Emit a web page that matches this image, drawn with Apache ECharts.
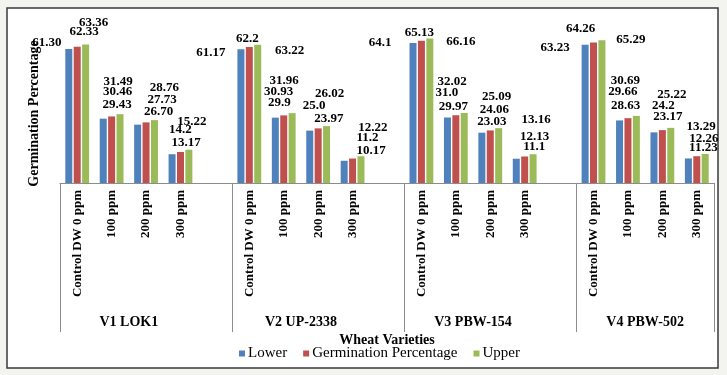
<!DOCTYPE html>
<html>
<head>
<meta charset="utf-8">
<script src="https://cdn.jsdelivr.net/npm/echarts@6/dist/echarts.min.js"></script>
<style>
  html, body { margin: 0; padding: 0; background: #f3f3ef; }
  #chart { width: 727px; height: 375px; }
</style>
</head>
<body>
<div id="chart"></div>
<script>
// Wheat germination by variety and treatment (Lower / mean / Upper).
const varieties = ["V1 LOK1", "V2 UP-2338", "V3 PBW-154", "V4 PBW-502"];
const treatments = ["Control DW 0 ppm", "100 ppm", "200 ppm", "300 ppm"];

// values kept as text so the labels read exactly like the figure ("61.30", "25.0")
const lower = ["61.30", "29.43", "26.70", "13.17", "61.17", "29.9", "23.97", "10.17",
               "64.1", "29.97", "23.03", "11.1", "63.23", "28.63", "23.17", "11.23"];
const germination = ["62.33", "30.46", "27.73", "14.2", "62.2", "30.93", "25.0", "11.2",
                     "65.13", "31.0", "24.06", "12.13", "64.26", "29.66", "24.2", "12.26"];
const upper = ["63.36", "31.49", "28.76", "15.22", "63.22", "31.96", "26.02", "12.22",
               "66.16", "32.02", "25.09", "13.16", "65.29", "30.69", "25.22", "13.29"];

// where the source put each data label, relative to its bar top (styling only)
const labelShift = {
  lower: [[-22, -6], [14, -14], [21, -13], [14, -12], [-30, 3], [4, -15], [19, -12], [27, -10],
          [-33, 0], [6, -11], [10, -11], [18, -12], [-30, 3], [6, -15], [14, -16], [15, -11]],
  germ:  [[7, -15], [6, -25], [16, -23], [0, -22], [-2, -8], [-5, -24], [-4, -23], [15, -21],
          [-2, -8], [-9, -23], [4, -21], [10, -20], [-13, -14], [-5, -27], [1, -24], [7, -18]],
  upper: [[8, -22], [-2, -33], [10, -32], [3, -28], [32, 6], [-8, -33], [3, -32], [12, -29],
          [31, 3], [-12, -31], [-2, -32], [3, -35], [29, -1], [-11, -35], [1, -33], [-4, -27]],
};

const SERIF = "'Liberation Serif', 'Times New Roman', serif";

// Excel left an empty slot after each variety except the last one
const slots = [];
varieties.forEach((v, vi) => {
  treatments.forEach((t) => slots.push(t));
  if (vi < varieties.length - 1) slots.push("");
});

function slotData(vals, shifts) {
  const out = [];
  let k = 0;
  varieties.forEach((v, vi) => {
    treatments.forEach(() => {
      const s = shifts[k];
      out.push({ value: Number(vals[k]), txt: vals[k], label: { offset: [s[0], s[1] + 6.5] } });
      k++;
    });
    if (vi < varieties.length - 1) out.push("-");
  });
  return out;
}

// group boundaries / centres on a 0..slots.length value scale
const bounds = [0];
const centres = [];
let pos = 0;
varieties.forEach((v, vi) => {
  const n = treatments.length + (vi < varieties.length - 1 ? 1 : 0);
  centres.push(pos + treatments.length / 2);
  pos += n;
  bounds.push(pos);
});

const barLabel = {
  show: true,
  position: "top",
  distance: 0,
  fontFamily: SERIF,
  fontWeight: "bold",
  fontSize: 13,
  lineHeight: 13,
  color: "#000",
  formatter: (p) => p.data.txt,
};

function bar(name, color, vals, shifts) {
  return {
    name, type: "bar", xAxisIndex: 0,
    barWidth: 7, barGap: "20%",
    itemStyle: { color },
    label: barLabel,
    data: slotData(vals, shifts),
  };
}

const chart = echarts.init(document.getElementById("chart"), null, { renderer: "canvas" });
chart.setOption({
  animation: false,
  backgroundColor: "#f3f3ef",
  graphic: [{
    type: "rect", z: -10, silent: true,
    shape: { x: 7, y: 8, width: 711, height: 360 },
    style: { fill: "#fff", stroke: "#3a3a3a", lineWidth: 1.5 },
  }],
  grid: { left: 60, right: 13, top: 30, bottom: 192 },
  legend: {
    left: 234, top: 341,
    icon: "rect", itemWidth: 6, itemHeight: 6, itemGap: 16,
    textStyle: { fontFamily: SERIF, fontSize: 15, color: "#000", padding: [0, 0, 0, -2] },
  },
  xAxis: [{
    type: "category",
    data: slots,
    position: "bottom",
    axisLine: { lineStyle: { color: "#8c8c8c", width: 1 } },
    axisTick: { show: false },
    axisLabel: {
      interval: 0, rotate: 90, margin: 7,
      fontFamily: SERIF, fontWeight: "bold", fontSize: 13, color: "#000",
    },
  }, {
    type: "value",
    min: 0, max: slots.length,
    position: "bottom",
    axisLine: { show: false },
    splitLine: { show: false },
    axisTick: {
      show: true, length: 149, customValues: bounds,
      lineStyle: { color: "#8c8c8c", width: 1 },
    },
    axisLabel: {
      customValues: centres, margin: 132,
      fontFamily: SERIF, fontWeight: "bold", fontSize: 14, color: "#000",
      formatter: (v) => varieties[centres.indexOf(v)] ?? "",
    },
    name: "Wheat Varieties",
    nameLocation: "middle",
    nameGap: 150,
    nameTextStyle: { fontFamily: SERIF, fontWeight: "bold", fontSize: 14, color: "#000" },
  }],
  yAxis: {
    type: "value",
    min: 0, max: 70,
    axisLine: { show: false },
    axisTick: { show: false },
    axisLabel: { show: false },
    splitLine: { show: false },
    name: "Germination Percentage",
    nameLocation: "middle",
    nameGap: 19,
    nameTextStyle: {
      fontFamily: SERIF, fontWeight: "bold", fontSize: 14, color: "#000",
      padding: [0, 14, 0, 0],
    },
  },
  series: [
    bar("Lower", "#4f81bd", lower, labelShift.lower),
    bar("Germination Percentage", "#c0504d", germination, labelShift.germ),
    bar("Upper", "#9bbb59", upper, labelShift.upper),
  ],
});
</script>
</body>
</html>
